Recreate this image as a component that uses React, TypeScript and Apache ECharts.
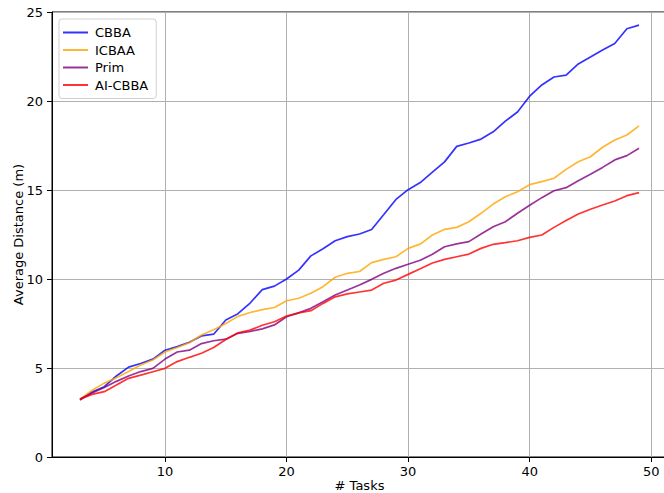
import React, { useEffect, useRef } from "react";
import * as echarts from "echarts";

const tasks = [3,4,5,6,7,8,9,10,11,12,13,14,15,16,17,18,19,20,21,22,23,24,25,26,27,28,29,30,31,32,33,34,35,36,37,38,39,40,41,42,43,44,45,46,47,48,49];

const cbba = [3.2,3.65,3.95,4.55,5.05,5.25,5.5,6.0,6.2,6.45,6.8,6.9,7.7,8.05,8.65,9.4,9.6,10.0,10.5,11.3,11.7,12.15,12.38,12.53,12.78,13.62,14.47,15.02,15.42,16.0,16.58,17.45,17.64,17.86,18.27,18.87,19.38,20.27,20.9,21.35,21.45,22.08,22.47,22.86,23.23,24.06,24.26];

const icbaa = [3.25,3.75,4.15,4.45,4.8,5.17,5.45,5.9,6.15,6.42,6.85,7.15,7.5,7.9,8.12,8.28,8.4,8.78,8.92,9.2,9.57,10.1,10.32,10.42,10.92,11.1,11.25,11.72,11.96,12.47,12.79,12.9,13.22,13.69,14.21,14.62,14.9,15.3,15.47,15.66,16.16,16.59,16.87,17.4,17.81,18.09,18.6];

const prim = [3.25,3.6,3.9,4.25,4.55,4.8,4.98,5.5,5.9,6.0,6.37,6.53,6.62,6.95,7.05,7.2,7.42,7.88,8.1,8.35,8.72,9.1,9.38,9.66,9.98,10.32,10.6,10.83,11.05,11.39,11.81,11.97,12.1,12.53,12.94,13.22,13.69,14.14,14.57,14.96,15.13,15.52,15.88,16.27,16.69,16.93,17.34];

const aiCbba = [3.25,3.52,3.67,4.04,4.42,4.6,4.79,4.98,5.36,5.6,5.83,6.15,6.6,6.98,7.13,7.4,7.6,7.92,8.1,8.22,8.63,9.0,9.16,9.27,9.38,9.76,9.94,10.26,10.58,10.9,11.1,11.25,11.4,11.72,11.95,12.04,12.15,12.34,12.47,12.9,13.28,13.65,13.92,14.16,14.38,14.68,14.85];

const xTicks = [10, 20, 30, 40, 50];

const seriesDefs = [
  { name: "CBBA", data: cbba, color: "rgba(0,0,255,0.8)" },
  { name: "ICBAA", data: icbaa, color: "rgba(255,165,0,0.8)" },
  { name: "Prim", data: prim, color: "rgba(128,0,128,0.8)" },
  { name: "AI-CBBA", data: aiCbba, color: "rgba(255,0,0,0.8)" },
];

const FONT = "DejaVu Sans";

export default function App() {
  const ref = useRef<HTMLDivElement>(null);
  useEffect(() => {
    document.body.style.margin = "0";
    const chart = echarts.init(ref.current!, null, { renderer: "svg" });
    chart.setOption({
      animation: false,
      backgroundColor: "#ffffff",
      grid: {
        left: 52,
        right: -3,
        top: 12,
        bottom: 36,
        containLabel: false,
        outerBoundsMode: "none",
        show: true,
        borderColor: "#000000",
        borderWidth: 1,
        backgroundColor: "transparent",
      },
      legend: {
        orient: "vertical",
        left: 59,
        top: 19,
        icon: "rect",
        itemWidth: 25,
        itemHeight: 2,
        itemGap: 2.5,
        padding: [6, 8, 6, 4],
        backgroundColor: "rgba(255,255,255,0.8)",
        borderColor: "#d0d0d0",
        borderWidth: 1,
        borderRadius: 3,
        textStyle: { fontFamily: FONT, fontSize: 13, color: "#000", lineHeight: 15, padding: [0, 0, 0, 2] },
        data: seriesDefs.map((s) => s.name),
      },
      xAxis: {
        type: "value",
        min: 0.7,
        max: 51.3,
        name: "# Tasks",
        nameLocation: "middle",
        nameGap: 22,
        nameMoveOverlap: false,
        nameTextStyle: { fontFamily: FONT, fontSize: 13, color: "#000" },
        axisLine: { show: true, lineStyle: { color: "#000", width: 1 } },
        axisTick: { show: true, length: 5, inside: false, lineStyle: { color: "#000" }, customValues: xTicks },
        axisLabel: { fontFamily: FONT, fontSize: 13, color: "#000", margin: 8, customValues: xTicks },
        splitLine: { show: true, lineStyle: { color: "#b0b0b0", width: 1 } },
      },
      yAxis: {
        type: "value",
        min: 0,
        max: 25,
        interval: 5,
        name: "Average Distance (m)",
        nameLocation: "middle",
        nameGap: 27,
        nameMoveOverlap: false,
        nameTextStyle: { fontFamily: FONT, fontSize: 13, color: "#000" },
        axisLine: { show: true, lineStyle: { color: "#000", width: 1 } },
        axisTick: { show: true, length: 5, inside: false, lineStyle: { color: "#000" } },
        axisLabel: { fontFamily: FONT, fontSize: 13, color: "#000", margin: 9 },
        splitLine: { show: true, lineStyle: { color: "#b0b0b0", width: 1 } },
      },
      series: seriesDefs.map((s) => ({
        name: s.name,
        type: "line",
        data: tasks.map((t, i) => [t, s.data[i]]),
        showSymbol: false,
        symbol: "none",
        lineStyle: { color: s.color, width: 1.7 },
        itemStyle: { color: s.color },
        color: s.color,
      })),
    });
    return () => chart.dispose();
  }, []);
  return <div ref={ref} style={{ width: 664, height: 493 }} />;
}
